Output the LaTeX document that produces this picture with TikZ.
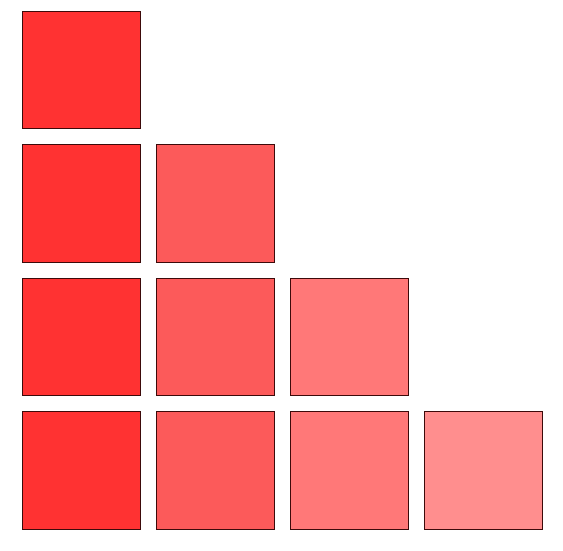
\documentclass[tikz,border=0pt]{standalone}
\definecolor{cA}{RGB}{255,50,50}
\definecolor{cB}{RGB}{252,90,90}
\definecolor{cC}{RGB}{255,120,120}
\definecolor{cD}{RGB}{255,142,142}
\definecolor{edge}{RGB}{60,10,10}
\begin{document}
\begin{tikzpicture}[x=1pt,y=-1pt,
  sq/.style={draw=edge,line width=0.8pt,minimum width=117.5pt,minimum height=117.5pt,inner sep=0pt,outer sep=0pt}]
\useasboundingbox (0,0) rectangle (563,551);
\foreach \r in {1,...,4}{
  \foreach \c in {1,...,\r}{
    \ifcase\c\or\def\col{cA}\or\def\col{cB}\or\def\col{cC}\or\def\col{cD}\fi
    \node[sq,fill=\col] (s\r\c) at ({81.5+133.9*(\c-1)},{69.8+133.6*(\r-1)}) {};
  }
}
\end{tikzpicture}
\end{document}
